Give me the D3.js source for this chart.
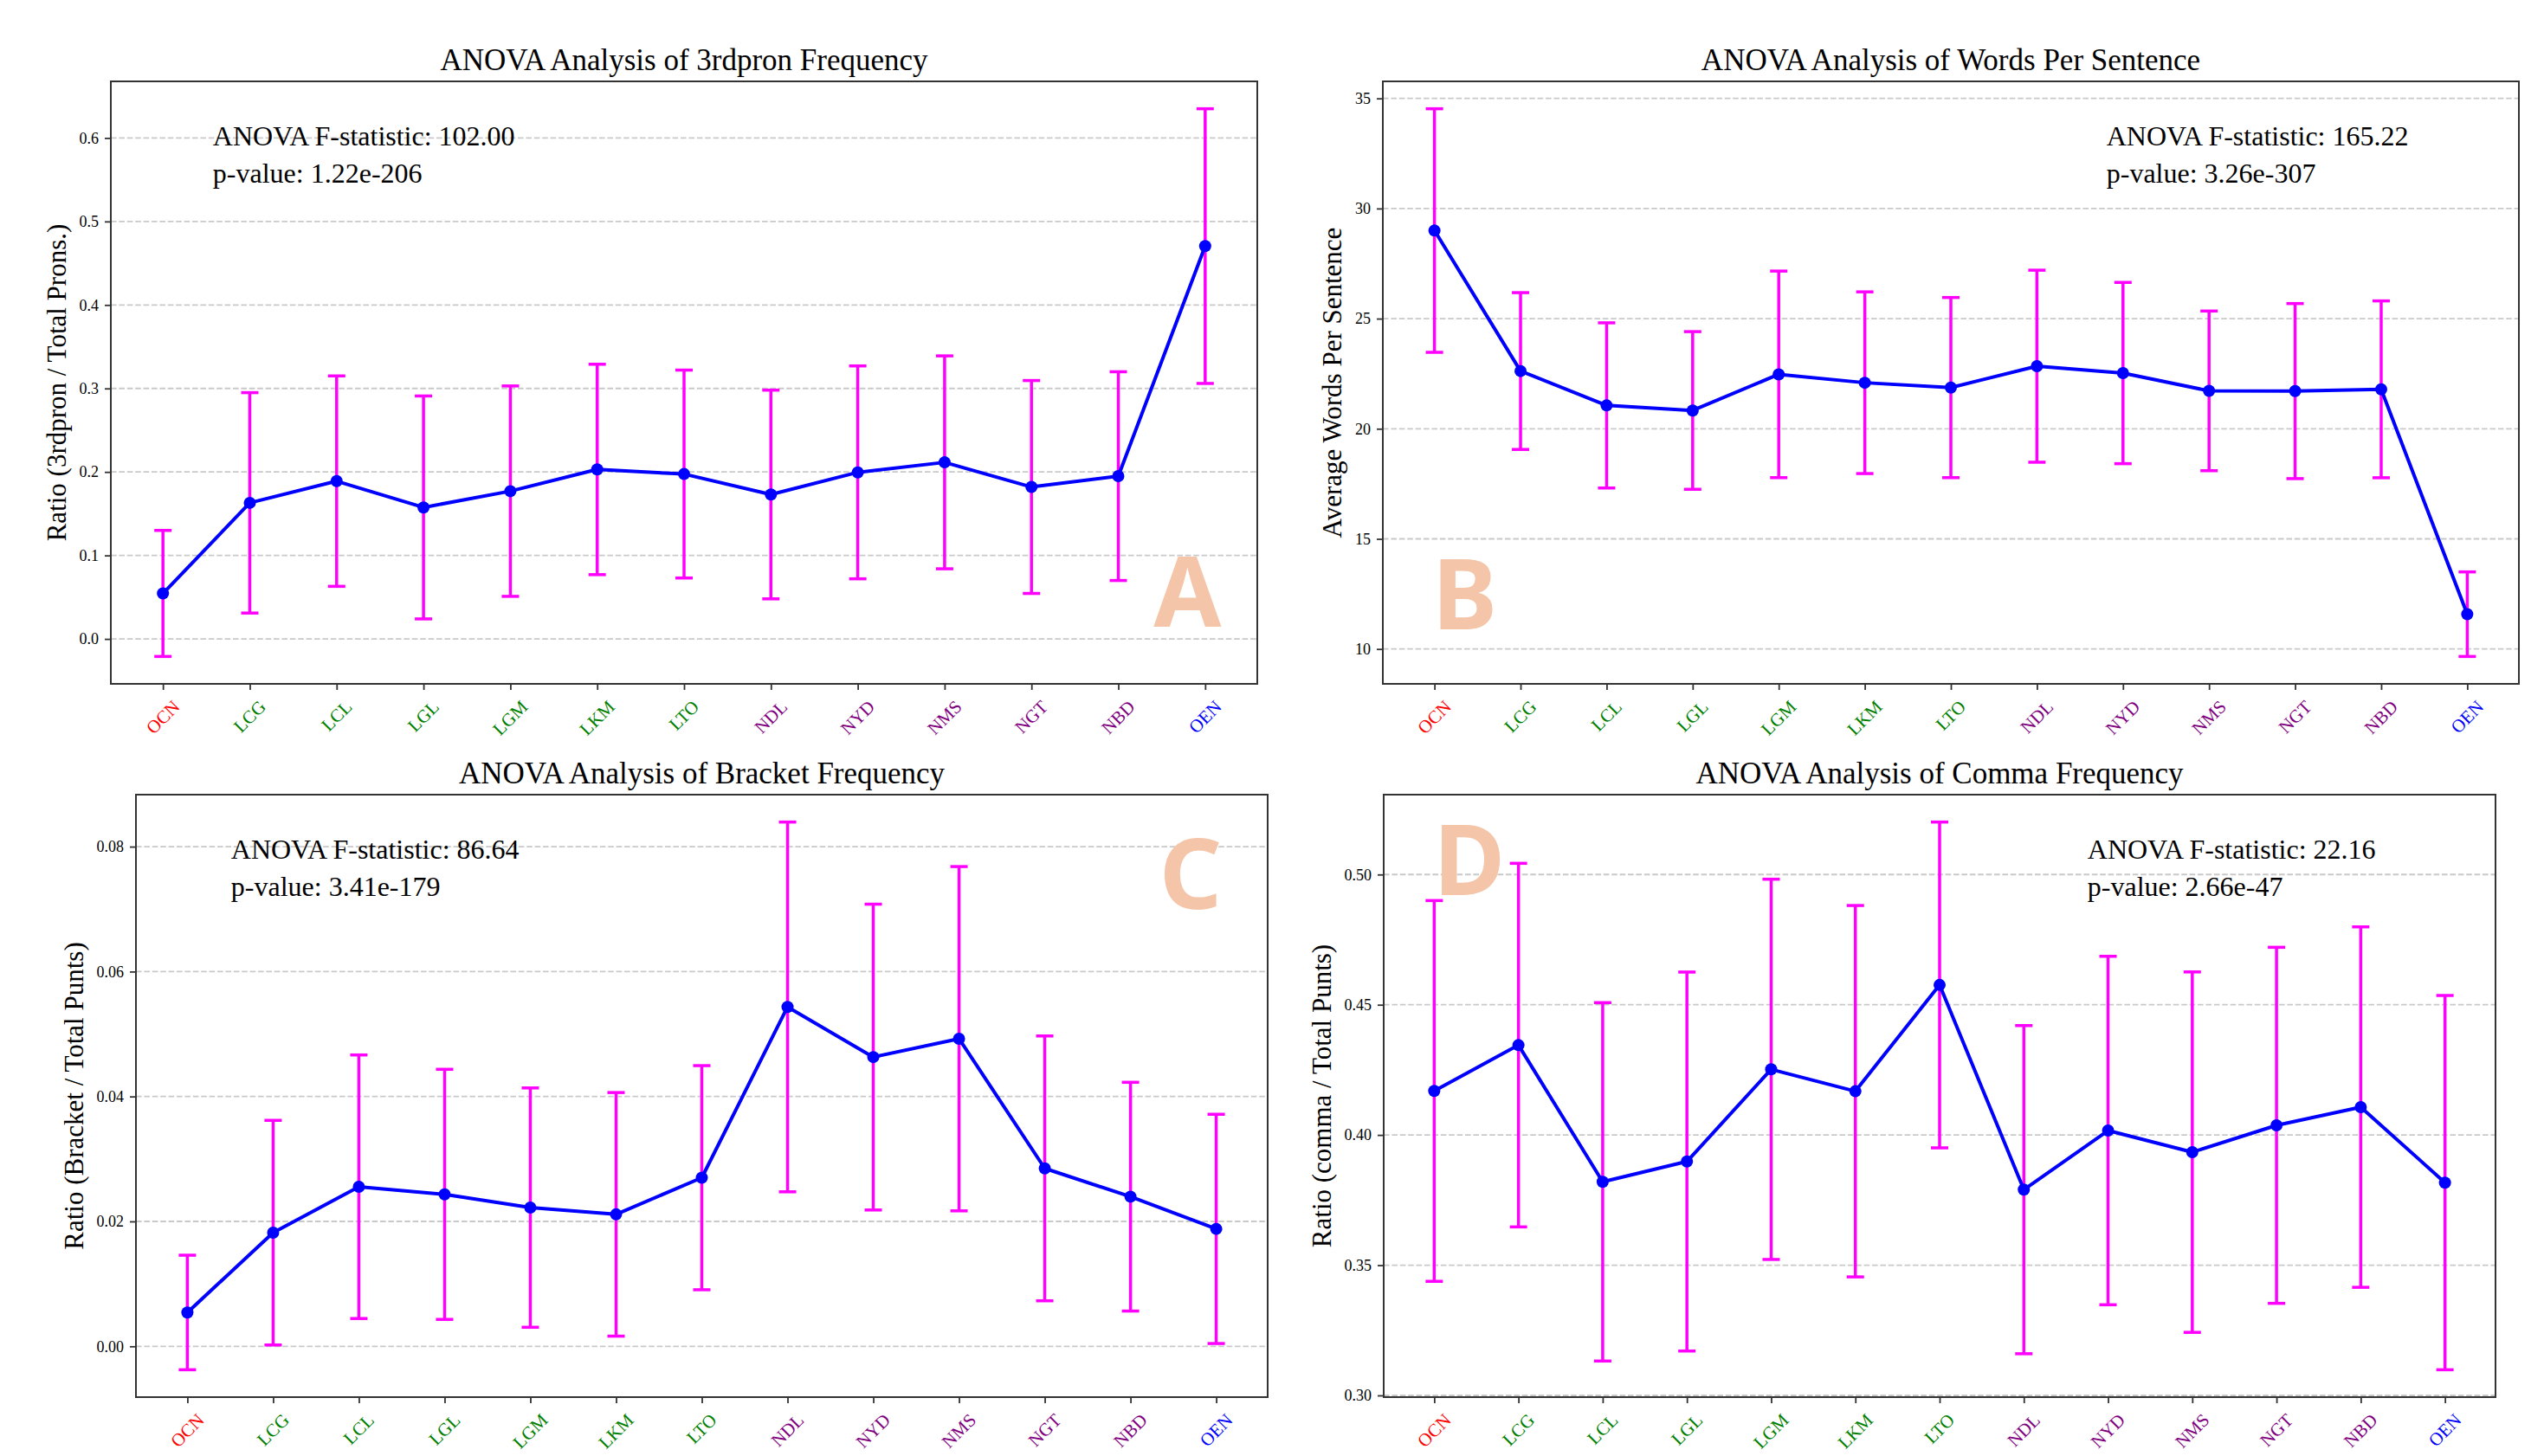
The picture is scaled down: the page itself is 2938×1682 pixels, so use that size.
<!DOCTYPE html>
<html>
<head>
<meta charset="utf-8">
<script src="https://cdn.jsdelivr.net/npm/d3@7"></script>
<style>
body { margin: 0; background: #fff; }
text { font-family: "Liberation Serif", "Times New Roman", serif; }
</style>
</head>
<body>
<div id="chart"></div>
<script>
/************** data **************/
var groups = ['OCN', 'LCG', 'LCL', 'LGL', 'LGM', 'LKM', 'LTO', 'NDL', 'NYD', 'NMS', 'NGT', 'NBD', 'OEN'];

var pronMean = [0.0545, 0.163, 0.189, 0.1575, 0.177, 0.203, 0.1975, 0.173, 0.1995, 0.2115, 0.182, 0.195, 0.4705];
var pronErr = [0.0755, 0.132, 0.126, 0.1335, 0.126, 0.126, 0.1245, 0.125, 0.1275, 0.1275, 0.1275, 0.125, 0.1645];
var pronTicks = [0, 0.1, 0.2, 0.3, 0.4, 0.5, 0.6];

var wpsMean = [29.0, 22.62, 21.06, 20.83, 22.47, 22.09, 21.87, 22.84, 22.53, 21.72, 21.71, 21.79, 11.58];
var wpsErr = [5.53, 3.56, 3.75, 3.58, 4.69, 4.125, 4.09, 4.36, 4.115, 3.625, 3.975, 4.015, 1.92];
var wpsTicks = [10, 15, 20, 25, 30, 35];

var bracketMean = [0.00542, 0.0182, 0.02555, 0.02433, 0.02221, 0.02113, 0.027, 0.05434, 0.04631, 0.04925, 0.02849, 0.02396, 0.0188];
var bracketErr = [0.00917, 0.01798, 0.0211, 0.02002, 0.01916, 0.0195, 0.01794, 0.0296, 0.02448, 0.02756, 0.0212, 0.01831, 0.01835];
var bracketTicks = [0, 0.02, 0.04, 0.06, 0.08];

var commaMean = [0.4169, 0.4345, 0.382, 0.3898, 0.4252, 0.4168, 0.4576, 0.379, 0.4017, 0.3934, 0.4037, 0.4107, 0.3817];
var commaErr = [0.0731, 0.0698, 0.0688, 0.07275, 0.073, 0.0713, 0.06255, 0.063, 0.0669, 0.0692, 0.06835, 0.0692, 0.07185];
var commaTicks = [0.30, 0.35, 0.40, 0.45, 0.50];

var titles = ['ANOVA Analysis of 3rdpron Frequency', 'ANOVA Analysis of Words Per Sentence',
	'ANOVA Analysis of Bracket Frequency', 'ANOVA Analysis of Comma Frequency'];
var yLabels = ['Ratio (3rdpron / Total Prons.)', 'Average Words Per Sentence',
	'Ratio (Bracket / Total Punts)', 'Ratio (comma / Total Punts)'];
var fStats = ['102.00', '165.22', '86.64', '22.16'];
var pValues = ['1.22e-206', '3.26e-307', '3.41e-179', '2.66e-47'];
var letters = ['A', 'B', 'C', 'D'];

/************** style / layout **************/
var tickColors = ['#ff0000', '#008000', '#008000', '#008000', '#008000', '#008000', '#008000',
	'#800080', '#800080', '#800080', '#800080', '#800080', '#0000ff'];

var width = 2938;
var height = 1682;

var svg = d3.select('#chart')
	.append('svg')
	.attr('width', width)
	.attr('height', height);

svg.append('rect').attr('width', width).attr('height', height).attr('fill', '#fff');

function drawPanel(p) {
	var x = d3.scaleLinear()
		.domain([-0.6, groups.length - 1 + 0.6])
		.range([p.left, p.right]);

	var lo = d3.min(p.mean, function (d, i) { return d - p.err[i]; });
	var hi = d3.max(p.mean, function (d, i) { return d + p.err[i]; });
	var margin = (hi - lo) * 0.05;
	var y = d3.scaleLinear()
		.domain([lo - margin, hi + margin])
		.range([p.bottom, p.top]);

	var g = svg.append('g');

	// dashed horizontal grid
	g.selectAll('.grid')
		.data(p.ticks)
		.enter().append('line')
		.attr('x1', p.left).attr('x2', p.right)
		.attr('y1', function (d) { return y(d); })
		.attr('y2', function (d) { return y(d); })
		.attr('stroke', '#c9c9c9')
		.attr('stroke-width', 1.8)
		.attr('stroke-dasharray', '6.6,2.8');

	// y axis
	var ya = g.append('g')
		.attr('transform', 'translate(' + p.left + ',0)')
		.call(d3.axisLeft(y).tickValues(p.ticks).tickFormat(d3.format(p.fmt)).tickSize(7).tickPadding(7));
	ya.select('.domain').remove();
	ya.selectAll('line').attr('stroke', '#333').attr('stroke-width', 1.8);
	ya.selectAll('text')
		.attr('fill', '#000')
		.style('font-family', '"Liberation Serif", serif')
		.style('font-size', '18px');

	// x axis
	var xa = g.append('g')
		.attr('transform', 'translate(0,' + p.bottom + ')')
		.call(d3.axisBottom(x).tickValues(d3.range(groups.length)).tickFormat(function (i) { return groups[i]; }).tickSize(7));
	xa.select('.domain').remove();
	xa.selectAll('line').attr('stroke', '#333').attr('stroke-width', 1.8);
	xa.selectAll('text').remove();

	// coloured group names, turned 45 degrees
	groups.forEach(function (name, i) {
		var holder = g.append('g');
		var t = holder.append('text')
			.attr('x', 0).attr('y', 0)
			.attr('dy', '0.33em')
			.attr('text-anchor', 'middle')
			.attr('fill', tickColors[i])
			.style('font-size', '21px')
			.text(name);
		var len = t.node().getComputedTextLength() || 44;
		var tx = x(i);
		var ty = p.bottom + 18 + (len + 14) / (2 * Math.SQRT2);
		holder.attr('transform', 'translate(' + tx + ',' + ty + ') rotate(-45)');
	});

	// y label, placed left of the tick labels
	var tickLeft = d3.min(ya.selectAll('text').nodes(), function (n) { return n.getBBox().x; }) + p.left;
	var bx = tickLeft - 16;
	var by = (p.top + p.bottom) / 2;
	g.append('text')
		.attr('text-anchor', 'middle')
		.attr('transform', 'translate(' + bx + ',' + by + ') rotate(-90)')
		.style('font-size', '31px')
		.text(p.ylabel);

	// title
	g.append('text')
		.attr('x', (p.left + p.right) / 2)
		.attr('y', p.top - 13)
		.attr('text-anchor', 'middle')
		.style('font-size', '35px')
		.text(p.title);

	// big letter
	g.append('text')
		.attr('x', p.left + (p.right - p.left) * p.letterX)
		.attr('y', p.bottom - (p.bottom - p.top) * p.letterY)
		.attr('text-anchor', 'middle')
		.attr('fill', 'rgb(244,197,168)')
		.style('font-family', '"Noto Sans", "DejaVu Sans", sans-serif')
		.style('font-weight', 'bold')
		.style('font-size', '113px')
		.text(p.letter);

	// error bars
	var eb = g.append('g');
	eb.selectAll('.bar')
		.data(p.mean)
		.enter().append('line')
		.attr('x1', function (d, i) { return x(i); })
		.attr('x2', function (d, i) { return x(i); })
		.attr('y1', function (d, i) { return y(d - p.err[i]); })
		.attr('y2', function (d, i) { return y(d + p.err[i]); })
		.attr('stroke', '#ff00ff')
		.attr('stroke-width', 3.5);
	[-1, 1].forEach(function (s) {
		eb.selectAll('.cap' + s)
			.data(p.mean)
			.enter().append('line')
			.attr('x1', function (d, i) { return x(i) - 10; })
			.attr('x2', function (d, i) { return x(i) + 10; })
			.attr('y1', function (d, i) { return y(d + s * p.err[i]); })
			.attr('y2', function (d, i) { return y(d + s * p.err[i]); })
			.attr('stroke', '#ff00ff')
			.attr('stroke-width', 3.5);
	});

	// mean line + markers
	var line = d3.line()
		.x(function (d, i) { return x(i); })
		.y(function (d) { return y(d); });
	g.append('path')
		.datum(p.mean)
		.attr('d', line)
		.attr('fill', 'none')
		.attr('stroke', '#0000ff')
		.attr('stroke-width', 4)
		.attr('stroke-linejoin', 'round');
	g.selectAll('.dot')
		.data(p.mean)
		.enter().append('circle')
		.attr('cx', function (d, i) { return x(i); })
		.attr('cy', function (d) { return y(d); })
		.attr('r', 7)
		.attr('fill', '#0000ff');

	// ANOVA text
	var ax = p.left + (p.right - p.left) * p.statX;
	g.append('text')
		.attr('x', ax).attr('y', p.top + 74)
		.style('font-size', '32px')
		.text('ANOVA F-statistic: ' + p.f);
	g.append('text')
		.attr('x', ax).attr('y', p.top + 117)
		.style('font-size', '32px')
		.text('p-value: ' + p.pv);

	// frame
	g.append('rect')
		.attr('x', p.left).attr('y', p.top)
		.attr('width', p.right - p.left)
		.attr('height', p.bottom - p.top)
		.attr('fill', 'none')
		.attr('stroke', '#333')
		.attr('stroke-width', 2);
}

var panels = [
	{ left: 128, right: 1452, top: 94, bottom: 790, mean: pronMean, err: pronErr, ticks: pronTicks, fmt: '.1f',
		statX: 0.089, letterX: 0.939, letterY: 0.095 },
	{ left: 1597, right: 2909, top: 94, bottom: 790, mean: wpsMean, err: wpsErr, ticks: wpsTicks, fmt: 'd',
		statX: 0.637, letterX: 0.072, letterY: 0.09 },
	{ left: 157, right: 1464, top: 918, bottom: 1614, mean: bracketMean, err: bracketErr, ticks: bracketTicks, fmt: '.2f',
		statX: 0.084, letterX: 0.932, letterY: 0.81 },
	{ left: 1598, right: 2882, top: 918, bottom: 1614, mean: commaMean, err: commaErr, ticks: commaTicks, fmt: '.2f',
		statX: 0.633, letterX: 0.077, letterY: 0.834 }
];

panels.forEach(function (p, k) {
	p.title = titles[k];
	p.ylabel = yLabels[k];
	p.f = fStats[k];
	p.pv = pValues[k];
	p.letter = letters[k];
	drawPanel(p);
});
</script>
</body>
</html>
